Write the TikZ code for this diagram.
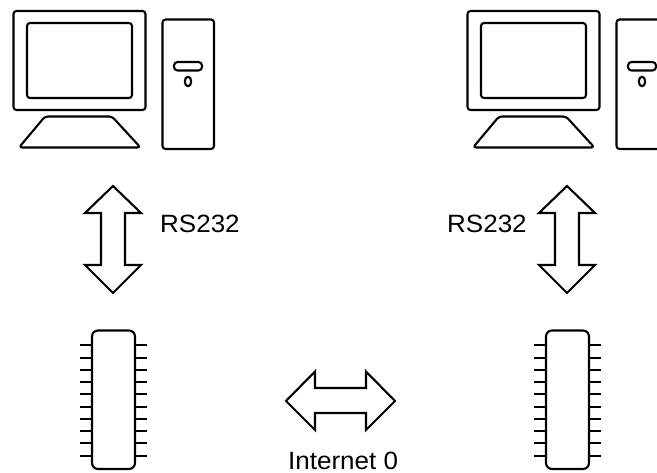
\documentclass[tikz,border=0pt]{standalone}
\usepackage{fontspec}
\setmainfont{Liberation Sans}
\tikzset{
  outline/.style={draw=black,line width=2.1pt,line join=round,fill=white},
  softbox/.style={outline,rounded corners=3pt},
  pin/.style={draw=black,line width=2pt},
  lbl/.style={font=\fontsize{25}{25}\selectfont,inner sep=0pt,text=black,xscale=1.04,transform shape}
}
\newcommand{\computer}[1]{%
  \begin{scope}[shift={(#1,0)}]
    \draw[softbox] (13.5,11) rectangle (145.5,110);
    \draw[softbox] (27,23) rectangle (132,98);
    \draw[outline,rounded corners=3pt] (45,116.5) -- (112,116.5) -- (140.5,147.5) -- (19,147.5) -- cycle;
    \draw[softbox] (162.5,19.5) rectangle (214,149);
    \draw[outline,rounded corners=3.5pt] (174,62) rectangle (202,70.5);
    \draw[outline] (188,81.5) ellipse (3.2 and 4.8);
  \end{scope}}
\newcommand{\chip}[1]{%
  \begin{scope}[shift={(#1,0)}]
    \foreach \y in {345,358,370,382,394,407,419,431,443,456}{
      \draw[pin] (80,\y) -- (92,\y);
      \draw[pin] (135,\y) -- (147,\y);
    }
    \draw[softbox,rounded corners=6pt] (92,330.5) rectangle (135,469);
  \end{scope}}
\newcommand{\vbiarrow}[1]{%
  \begin{scope}[shift={(#1,0)}]
    \draw[outline,miter limit=10,line join=miter] (113,186) -- (141,213) -- (125,213) -- (125,265) -- (141,265) -- (113,293) -- (85,265) -- (101,265) -- (101,213) -- (85,213) -- cycle;
  \end{scope}}
\begin{document}
\begin{tikzpicture}[x=1pt,y=-1pt]
  \useasboundingbox (0,0) rectangle (657,473);
  \begin{scope}
    \clip (0,0) rectangle (657,473);
    \computer{0}
    \computer{454}
    \vbiarrow{0}
    \vbiarrow{454}
    \chip{0}
    \chip{454}
    \draw[outline,line join=miter] (286,401) -- (315,371.5) -- (315,388) -- (366,388) -- (366,371.5) -- (395,401) -- (366,430) -- (366,413) -- (315,413) -- (315,430) -- cycle;
  \end{scope}
  \node[lbl,anchor=base west] (rsl) at (160,232.5) {RS232};
  \node[lbl,anchor=base west] (rsr) at (447,232.5) {RS232};
  \node[lbl,anchor=base west] (net) at (288,470) {Internet 0};
\end{tikzpicture}
\end{document}
